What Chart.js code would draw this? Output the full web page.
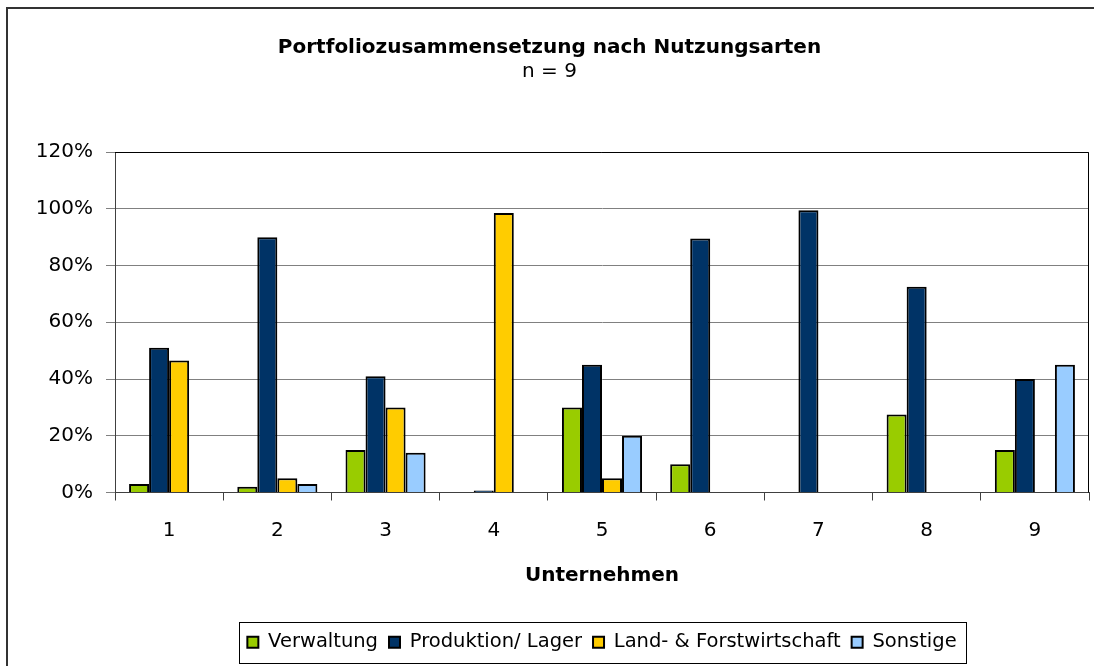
<!DOCTYPE html>
<html>
<head>
<meta charset="utf-8">
<script src="https://cdn.jsdelivr.net/npm/chart.js@4"></script>
<style>
  html, body { margin: 0; padding: 0; background: #fff; }
  #wrap { width: 1094px; height: 666px; }
</style>
</head>
<body>
<div id="wrap"><canvas id="chart"></canvas></div>
<script>
/* Portfoliozusammensetzung nach Nutzungsarten */
const categories = ['1', '2', '3', '4', '5', '6', '7', '8', '9'];
const verwaltung = [3, 2, 15, 0, 30, 10, 0, 27.5, 15];
const produktion = [51, 90, 41, 0.7, 45, 89.5, 99.5, 72.5, 40];
const landForst  = [46.5, 5, 30, 98.5, 5, 0, 0, 0, 0];
const sonstige   = [0, 3, 14, 0, 20, 0, 0, 0, 45];
const yTicks = [0, 20, 40, 60, 80, 100, 120];

const FONT = "'DejaVu Sans', Verdana, sans-serif";

function series(label, data, color) {
  return {
    label: label,
    data: data,
    backgroundColor: color,
    borderColor: '#000',
    borderWidth: 2,
    borderSkipped: 'bottom',
    categoryPercentage: 0.74,
    barPercentage: 1
  };
}

// frame around the plot, the legend and the outer figure edge
const frames = {
  id: 'frames',
  afterDraw(chart) {
    const ctx = chart.ctx;
    const a = chart.chartArea;
    ctx.save();
    ctx.strokeStyle = '#000';
    ctx.lineWidth = 1;
    ctx.beginPath();
    ctx.moveTo(a.left, a.top + 0.5);
    ctx.lineTo(a.right - 0.5, a.top + 0.5);
    ctx.lineTo(a.right - 0.5, a.bottom);
    ctx.stroke();

    ctx.strokeStyle = '#333';
    ctx.lineWidth = 2;
    ctx.beginPath();
    ctx.moveTo(7, 666);
    ctx.lineTo(7, 8);
    ctx.lineTo(1094, 8);
    ctx.stroke();

    const boxes = chart.legend.legendHitBoxes;
    if (boxes.length) {
      const l = Math.min(...boxes.map(b => b.left)) - 8;
      const r = Math.max(...boxes.map(b => b.left + b.width)) + 10;
      const t = boxes[0].top + boxes[0].height / 2 - 20.5;
      ctx.strokeStyle = '#000';
      ctx.lineWidth = 1;
      ctx.strokeRect(Math.round(l) + 0.5, Math.round(t) + 0.5, Math.round(r - l), 41);
    }
    ctx.restore();
  }
};

new Chart(document.getElementById('chart'), {
  type: 'bar',
  data: {
    labels: categories,
    datasets: [
      series('Verwaltung', verwaltung, '#99CC00'),
      series('Produktion/ Lager', produktion, '#003366'),
      series('Land- & Forstwirtschaft', landForst, '#FFCC00'),
      series('Sonstige', sonstige, '#99CCFF')
    ]
  },
  options: {
    responsive: true,
    maintainAspectRatio: false,
    animation: false,
    layout: { padding: { left: 10, right: 5, top: 0, bottom: 4 } },
    plugins: {
      title: {
        display: true,
        text: 'Portfoliozusammensetzung nach Nutzungsarten',
        color: '#000',
        font: { family: FONT, size: 20, weight: 'bold' },
        padding: { top: 36, bottom: 0 }
      },
      subtitle: {
        display: true,
        text: 'n = 9',
        color: '#000',
        font: { family: FONT, size: 20 },
        padding: { top: 0, bottom: 68 }
      },
      legend: {
        position: 'bottom',
        fullSize: false,
        labels: {
          color: '#000',
          font: { family: FONT, size: 19.5 },
          boxWidth: 11,
          boxHeight: 11,
          padding: 11
        }
      },
      tooltip: { enabled: false }
    },
    scales: {
      x: {
        grid: { offset: true, drawOnChartArea: false, drawTicks: true, tickLength: 8, color: '#404040' },
        border: { color: '#404040', width: 1 },
        ticks: { color: '#000', font: { family: FONT, size: 20 }, padding: 18 },
        title: {
          display: true,
          text: 'Unternehmen',
          color: '#000',
          font: { family: FONT, size: 20, weight: 'bold' },
          padding: { top: 22, bottom: 34 }
        },
        afterFit(s) { s.height = 129; }
      },
      y: {
        min: 0,
        max: 120,
        afterBuildTicks(s) { s.ticks = yTicks.map(v => ({ value: v })); },
        grid: { color: '#808080', tickLength: 9, drawTicks: true },
        border: { color: '#404040', width: 1 },
        ticks: {
          color: '#000',
          font: { family: FONT, size: 20 },
          padding: 13,
          callback: v => v + '%'
        },
        afterFit(s) { s.width = 105; }
      }
    }
  },
  plugins: [frames]
});
</script>
</body>
</html>
